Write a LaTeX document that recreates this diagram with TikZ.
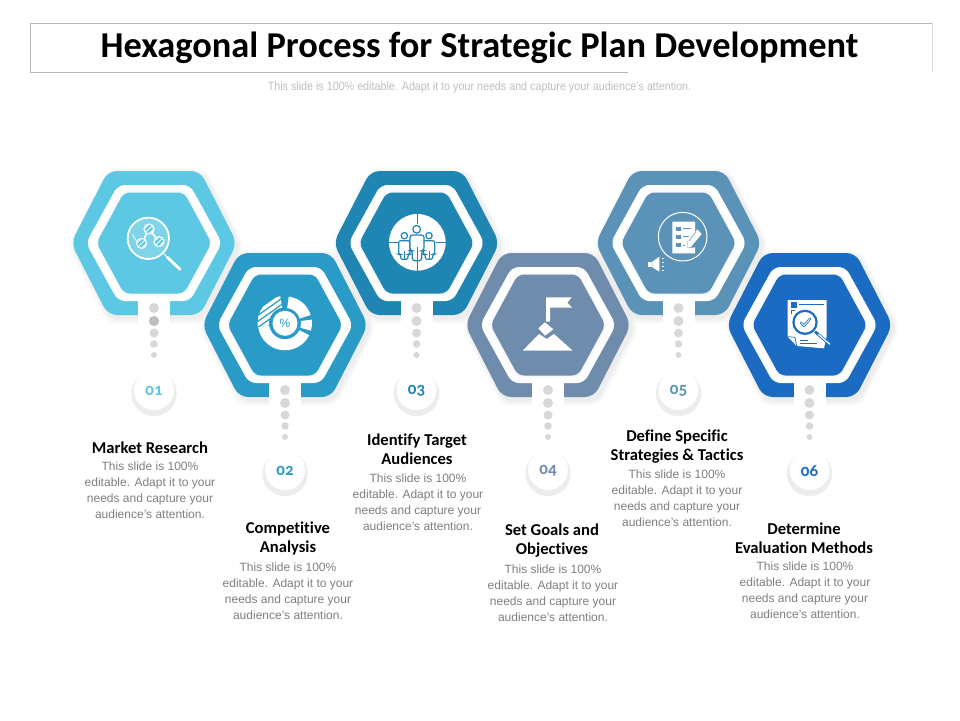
\documentclass[tikz,border=0pt]{standalone}
\usepackage{fontspec}
\setmainfont{Liberation Sans}
\newfontfamily\carlito[Numbers=OldStyle,Ligatures=NoCommon]{Carlito}
\definecolor{cA}{HTML}{5CC8E3}
\definecolor{cB}{HTML}{2A9AC6}
\definecolor{cC}{HTML}{1F85B3}
\definecolor{cD}{HTML}{6F8CAC}
\definecolor{cE}{HTML}{5B93B8}
\definecolor{cF}{HTML}{1A6BC1}
\definecolor{dotgray}{HTML}{D8D8D8}
\definecolor{bodygray}{HTML}{7F7F7F}
\tikzset{
  x=1pt,y=-1pt,
  headtext/.style={font=\carlito\bfseries\fontsize{16.6}{19}\selectfont,align=center,text=black,inner sep=0pt},
  bodytext/.style={font=\fontsize{12}{16}\selectfont,align=center,text=bodygray,inner sep=0pt},
  numtext/.style={font=\carlito\bfseries\fontsize{17}{17}\selectfont,inner sep=0pt},
  zoomat/.style 2 args={shift={(#1,#2)},x=.33333pt,y=-.33333pt},
  dotstyle/.style={fill=dotgray,draw=none},
}
\def\hexP#1#2#3{(0,-#3)--(#2,-#3)--(#1,0)--(#2,#3)--(-#2,#3)--(-#1,0)--(-#2,-#3)--cycle}
% centre x, centre y, colour, number, name, badge offset
\newcommand{\hexunit}[6]{%
  \begin{scope}[shift={(#1,#2)}]
    \foreach \i in {1,...,6}{
      \pgfmathsetmacro\w{83+\i}\pgfmathsetmacro\t{46+.5*\i}\pgfmathsetmacro\h{72+\i}
      \fill[black,opacity=.012,rounded corners=9pt,shift={(2.5,3)}] \hexP{\w}{\t}{\h};
    }
    \fill[#3,rounded corners=9pt] \hexP{83}{46}{72};
    \fill[white,rounded corners=7pt] \hexP{68}{36}{58};
    \foreach \i in {1,...,3}{
      \pgfmathsetmacro\w{57+\i}\pgfmathsetmacro\t{30+.5*\i}\pgfmathsetmacro\h{50.5+\i}
      \fill[black,opacity=.012,rounded corners=6pt] \hexP{\w}{\t}{\h};
    }
    \fill[#3,rounded corners=6pt] \hexP{57.5}{30}{50.5};
    \fill[white] (-16,57) rectangle (16,80);
    \fill[dotstyle] (0,65) circle (5);
    \fill[dotstyle] (0,78) circle (5);
    \fill[dotstyle] (0,90) circle (4.5);
    \fill[dotstyle] (0,101) circle (3.8);
    \fill[dotstyle] (0,112) circle (3);
    \fill[black!7] (0,#6+3.5) circle (22.7);
    \fill[white] (0,#6) circle (20);
    \node[numtext,text=#3] (#5) at (0,#6+.8) {#4};
  \end{scope}
}
\newcommand{\sector}[4]{(#1:#4) arc (#1:#2:#4) -- (#2:#3) arc (#2:#1:#3) -- cycle}
\begin{document}
\begin{tikzpicture}
\useasboundingbox (0,0) rectangle (960,720);
\fill[white] (0,0) rectangle (960,720);
% title frame
\draw[black!28,line width=.8pt] (628,72) -- (30,72) -- (30,23) -- (932,23);
\draw[black!14,line width=.8pt] (932,23) -- (932,72);
\node[font=\carlito\bfseries\fontsize{36.4}{36}\selectfont,inner sep=0pt] (title) at (479.5,48) {Hexagonal Process for Strategic Plan Development};
\node[text=black!25,inner sep=0pt] (subtitle) at (479.5,87) {\scalebox{.895}[1]{\fontsize{12}{14}\selectfont This slide is 100\% editable. Adapt it to your needs and capture your audience's attention.}};
% hexagons
\hexunit{154}{243}{cA}{01}{numA}{147}
\hexunit{285}{325}{cB}{02}{numB}{145}
\hexunit{416.5}{243}{cC}{03}{numC}{147}
\hexunit{548}{325}{cD}{04}{numD}{145}
\hexunit{678.5}{243}{cE}{05}{numE}{147}
\hexunit{809.5}{325}{cF}{06}{numF}{145}
\fill[black!26] (154,321) circle (5);
% texts
\def\bodytxt{This slide is 100\%\\editable. Adapt it to your\\needs and capture your\\audience's attention.}
\node[headtext] (hA) at (150,447.5) {Market Research};
\node[bodytext,anchor=north] (bA) at (150,462) {\bodytxt};
\node[headtext] (hB) at (288,538.5) {Competitive\\Analysis};
\node[bodytext,anchor=north] (bB) at (288,563) {\bodytxt};
\node[headtext] (hC) at (417,449) {Identify Target\\Audiences};
\node[bodytext,anchor=north] (bC) at (418,474) {\bodytxt};
\node[headtext] (hD) at (552,540.5) {Set Goals and\\Objectives};
\node[bodytext,anchor=north] (bD) at (553,565) {\bodytxt};
\node[headtext] (hE) at (677,446.5) {Define Specific\\Strategies \& Tactics};
\node[bodytext,anchor=north] (bE) at (677,470) {\bodytxt};
\node[headtext] (hF) at (804,538) {Determine\\Evaluation Methods};
\node[bodytext,anchor=north] (bF) at (805,562) {\bodytxt};
% icon 1: magnifier with molecules
\begin{scope}[zoomat={120}{210}]
  \fill[cA!78!white] (85,85) circle (60);
  \draw[white,line width=1.8pt] (85,85) circle (62);
  \draw[white,line width=.7pt] (38,72) arc (165:110:48);
  \draw[white,line width=1.6pt] (87,57)--(65,100) (87,57)--(117,95);
  \foreach \x/\y in {87/57,65/100,117/95}{
    \fill[white] (\x,\y) circle (17);
    \begin{scope}
      \clip (\x,\y) circle (13);
      \fill[cA] (\x,\y) circle (13);
      \foreach \d in {-14,-7,0,7,14}{\draw[white,line width=.9pt] (\x-20+\d,\y+20+\d) -- (\x+20+\d,\y-20+\d);}
    \end{scope}
  }
  \draw[white,line width=.9pt] (130,130)--(142,142);
  \draw[white,line width=2.8pt,line cap=round] (142,142)--(180,178);
\end{scope}
% icon 2: percent donut
\begin{scope}[shift={(285,323.3)},x=1pt,y=1pt]
  \fill[white] \sector{82}{18}{15.5}{27};
  \fill[white] \sector{8}{-16}{16}{27};
  \fill[white] \sector{-26}{-172}{16}{27};
  \begin{scope}
    \clip \sector{100}{188}{16}{27.5};
    \foreach \d in {-42,-36,...,42}{\draw[white,line width=3.4pt] (-40,\d-28) -- (40,\d+28);}
  \end{scope}
  \fill[white] (0,0) circle (12.5);
  \node[font=\fontsize{12}{12}\selectfont,text=cB,inner sep=0pt] (pct) at (0,0) {\%};
\end{scope}
% icon 3: target audience
\begin{scope}[zoomat={385}{210}]
  \fill[white] (97,97) circle (85);
  \draw[cC,line width=1pt] (97,10)--(97,42) (97,152)--(97,184) (10,97)--(40,97) (152,97)--(184,97);
  \foreach \x in {58,132}{
    \draw[cC,fill=white,line width=1.2pt] (\x,77) circle (9.5);
    \draw[cC,fill=white,line width=1.2pt,rounded corners=2pt] (\x-17,92)--(\x-17,133)--(\x-11,133)--(\x-11,148)--(\x+11,148)--(\x+11,133)--(\x+17,133)--(\x+17,92)--cycle;
    \draw[cC,line width=.9pt] (\x,148)--(\x,122);
  }
  \draw[cC,fill=white,line width=1.2pt] (95,58) circle (11.5);
  \draw[cC,fill=white,line width=1.2pt,rounded corners=2.5pt] (75,75)--(75,122)--(82,122)--(82,152)--(110,152)--(110,122)--(117,122)--(117,75)--cycle;
  \draw[cC,line width=.9pt] (96,152)--(96,112);
\end{scope}
% icon 4: flag on mountain
\begin{scope}[zoomat={330}{160}]
  \fill[white] (648,412)--(725,412)--(712,428)--(727,443)--(660,443)--(660,485)--(648,485)--cycle;
  \fill[white] (645,487)--(670,508)--(645,527)--(625,505)--cycle;
  \fill[white] (578,572)--(627,522)--(650,537)--(672,522)--(728,572)--cycle;
\end{scope}
% icon 5: checklist with pencil and speaker
\begin{scope}[zoomat={600}{160}]
  \draw[white,line width=1pt] (248,230) circle (73);
  \fill[white] (217,185)--(285,185)--(285,218)--(262,245)--(262,265)--(285,262)--(285,280)--(217,280)--cycle;
  \foreach \y in {200,225,250}{\fill[cE] (228,\y) rectangle (242,\y+12);}
  \draw[cE,line width=.9pt] (250,205)--(274,205) (250,230)--(266,230) (250,255)--(256,255);
  \fill[white] (292,208)--(305,222)--(272,262)--(262,263)--(263,245)--cycle;
  \draw[cE,line width=.5pt] (288,215)--(268,242);
  \fill[white] (143,305) rectangle (155,322);
  \fill[white] (157,305)--(178,290)--(178,335)--(157,322)--cycle;
  \foreach \y in {295,308,320,332}{\fill[white] (186,\y-2) rectangle (193,\y+2);}
\end{scope}
% icon 6: document with magnifier
\begin{scope}[zoomat={600}{160}]
  \fill[white] (563,420)--(680,420)--(680,528)--(672,565)--(590,558)--(563,530)--cycle;
  \fill[cF] (573,427) rectangle (590,445);
  \draw[cF,line width=.7pt] (575,450)--(575,462) (575,450)--(585,450);
  \draw[cF,line width=.8pt] (597,432)--(672,432) (600,549)--(650,549) (600,541)--(625,541);
  \draw[cF,line width=.7pt] (563,530)--(585,532)--(590,558);
  \fill[cF] (615,487) circle (38);
  \fill[white] (615,487) circle (31);
  \draw[cF,line width=2.4pt,line cap=round,line join=round] (603,488)--(612,498)--(630,476);
  \draw[white,line width=.8pt,line cap=round,line join=round] (603,488)--(612,498)--(630,476);
  \draw[cF,line width=2.8pt] (645,515)--(686,550);
  \draw[white,line width=1.2pt] (655,523)--(690,553);
\end{scope}
\end{tikzpicture}
\end{document}
